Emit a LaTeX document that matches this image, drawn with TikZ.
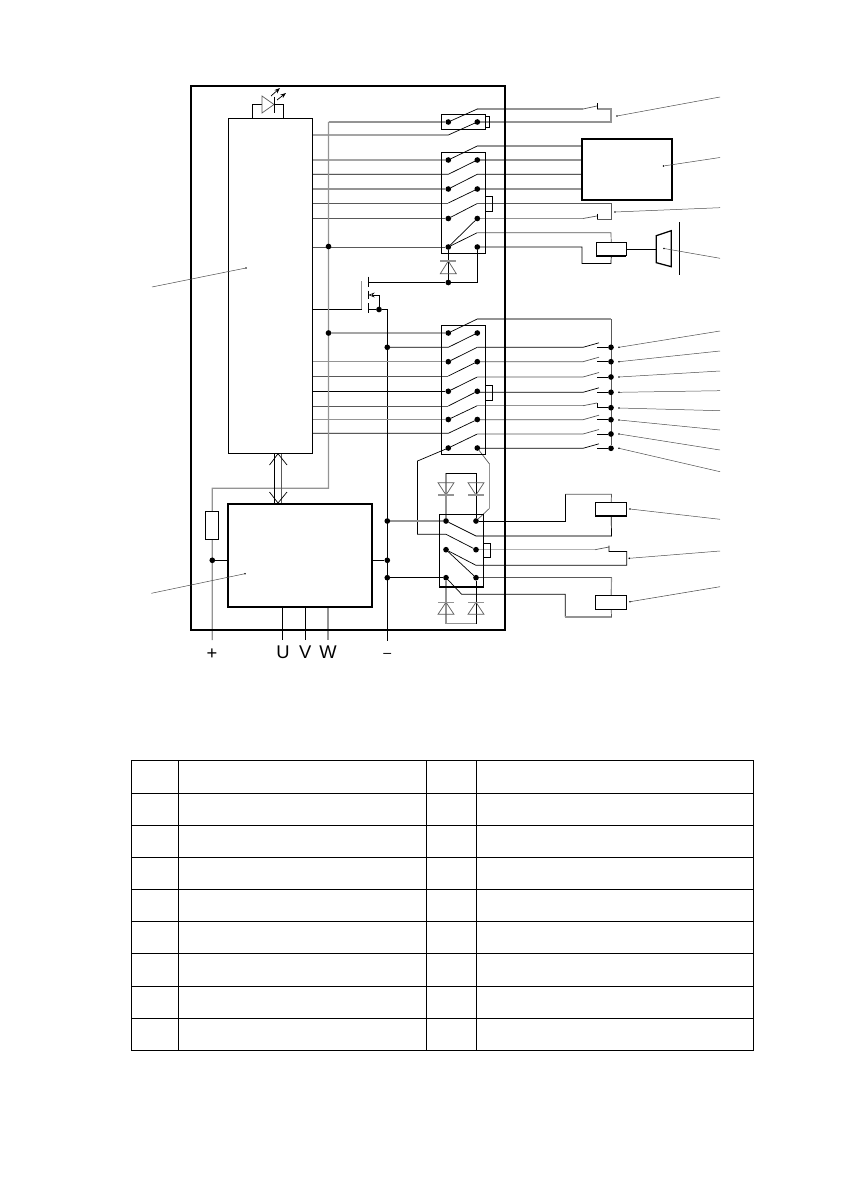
\documentclass[tikz,border=0pt]{standalone}
\usepackage{fontspec}
\setmainfont{Liberation Sans}
\usetikzlibrary{arrows.meta,backgrounds}
\tikzset{
  wire/.style={line width=0.5pt,black},
  mwire/.style={line width=0.5pt,black!65},
  gwire/.style={line width=0.8pt,black!42},
  leader/.style={line width=0.35pt,black!70},
  sized/.style 2 args={minimum width=#1*0.707pt,minimum height=#2*0.707pt},
  box/.style={draw,line width=0.6pt,inner sep=0pt,outer sep=0pt},
  hbox/.style={box,line width=1.2pt},
  base/.style={line width=1.1pt},
  tline/.style={line width=0.7pt,black},
  dot/.style={circle,fill,inner sep=0pt,minimum size=4pt,outer sep=0pt},
  ldot/.style={circle,fill,inner sep=0pt,minimum size=1.3pt,outer sep=0pt},
  lab/.style={font=\fontsize{13}{13}\selectfont,inner sep=0pt,anchor=base}
}
\newcommand{\diodesym}[3]{
  \draw[mwire] ({#1-8},#2) -- ({#1+8},#2) -- (#1,#3) -- cycle;
  \draw[gwire] ({#1-8},#3) -- ({#1+8},#3);
}
\begin{document}
\begin{tikzpicture}[x=0.707pt,y=-0.707pt]
\useasboundingbox (0,0) rectangle (842,1191);

\node[hbox,sized={314}{544},line width=1.2pt] (frame) at (348,358) {};
\node[box,sized={84}{334.5}] (ctrl) at (270,285.75) {};
\node[hbox,sized={144}{103}] (power) at (299.7,555.2) {};
\node[hbox,sized={90.3}{61}] (unit) at (626.8,169.4) {};
\node[box,sized={13}{28}] (fuse) at (212.2,525.3) {};
\node[box,sized={44}{15.2}] (relA) at (463.7,122) {};
\node[box,sized={44}{101}] (relB) at (463.7,203.2) {};
\node[box,sized={43.8}{129}] (relC) at (463.5,389.8) {};
\node[box,sized={44}{72.3}] (relD) at (461.3,550.8) {};
\node[box,sized={30}{13.5}] (coilA) at (611.2,249) {};
\node[box,sized={31}{13.7}] (coilB) at (611.2,509.2) {};
\node[box,sized={31}{14}] (coilC) at (611.2,602.3) {};

\foreach \n/\y in {1/122} {
  \node[dot] (al\n) at (448.3,\y) {};
  \node[dot] (ar\n) at (477.3,\y) {};
}
\foreach \n/\y in {1/160,2/189,3/218.5,4/247} {
  \node[dot] (bl\n) at (448.3,\y) {};
  \node[dot] (br\n) at (477.3,\y) {};
}
\foreach \n/\y in {1/333,2/361.7,3/391.3,4/419.5,5/448} {
  \node[dot] (cl\n) at (448.3,\y) {};
  \node[dot] (cr\n) at (477.3,\y) {};
}
\foreach \n/\y in {1/521,2/549.7,3/577.7} {
  \node[dot] (dl\n) at (446,\y) {};
  \node[dot] (dr\n) at (476,\y) {};
}
\foreach \n/\y in {1/347.3,2/361.7,3/377,4/392.3,5/407.7,6/419.7,7/434,8/448.3} {
  \node[dot] (bus\n) at (611,\y) {};
}
\node[dot] (ga) at (448.3,282.5) {};
\node[dot] (sa) at (379,309.5) {};
\node[dot] (ja) at (328.5,246.5) {};
\node[dot] (jb) at (328.5,333) {};
\node[dot] (jc) at (387.3,347.3) {};
\node[dot] (jd) at (387.3,521) {};
\node[dot] (je) at (387.3,560.3) {};
\node[dot] (jf) at (387.3,577.7) {};
\node[dot] (jg) at (212.3,560.3) {};

\node[lab] (plus) at (212,659.5) {+};
\node[lab] (uu) at (283,658.7) {U};
\node[lab] (vv) at (305.3,658.7) {V};
\node[lab] (ww) at (328,658.7) {W};
\node[lab,font=\fontsize{10}{10}\selectfont] (minus) at (387.3,657) {–};

\begin{scope}[on background layer]
% led
\draw[wire] (252,118.5) -- (252,104) -- (283,104) -- (283,118.5);
\draw[mwire,fill=white] (262,96) -- (274,104.5) -- (262,113) -- cycle;
\draw[wire] (274,97) -- (274,113);
\draw[wire,-{Stealth[length=4pt,width=3pt]}] (271,96) -- (280,88);
\draw[wire,-{Stealth[length=4pt,width=3pt]}] (277,100) -- (286,93);

% first relay
\draw[gwire] (ar1) -- (611,122) -- (611,109) -- (597,109);
\draw[gwire] (583,109) -- (477.3,109);
\draw[wire] (al1) -- (477.3,109);
\draw[wire] (ctrl.east |- 0,135) -- (448.3,135) -- (ar1);
\draw[mwire] (583,109) -- (597,106);
\draw[wire] (597,103.5) -- (597,109);
\draw[wire] (485.7,116) -- (489.5,116) -- (489.5,127.3) -- (485.7,127.3);

% second relay
\draw[wire] (ctrl.east |- bl1) -- (bl1) -- (477.3,146);
\draw[gwire] (477.3,146) -- (unit.west |- 0,146);
\draw[gwire] (br1) -- (unit.west |- br1);
\draw[wire] (ctrl.east |- 0,174.3) -- (448.3,174.3) -- (br1);
\draw[wire] (bl2) -- (477.3,174.3) -- (unit.west |- 0,174.3);
\draw[gwire] (ctrl.east |- bl2) -- (bl2);
\draw[gwire] (br2) -- (unit.west |- br2);
\draw[mwire] (ctrl.east |- 0,203) -- (448.3,203);
\draw[wire] (448.3,203) -- (br2);
\draw[wire] (bl3) -- (477.3,203.5);
\draw[mwire] (477.3,203.5) -- (611,203.5) -- (611,219) -- (597,219);
\draw[mwire] (ctrl.east |- bl3) -- (bl3);
\draw[gwire] (br3) -- (583,218.5);
\draw[mwire] (583,218.5) -- (597,216);
\draw[wire] (597,213.5) -- (597,219);
\draw[wire] (bl4) -- (br3);
\draw[wire] (bl4) -- (477.3,232.7);
\draw[mwire] (477.3,232.7) -- (611,232.7) -- (coilA.north);
\draw[mwire] (ctrl.east |- bl4) -- (bl4);
\draw[wire] (br4) -- (582,247) -- (582,263.5) -- (611,263.5) -- (coilA.south);
\draw[wire] (coilA.east) -- (656.3,249);
\draw[wire] (485.7,196.7) -- (492,196.7) -- (492,211.7) -- (485.7,211.7);
\draw[wire] (bl4) -- (ga) -- (477.3,282.5) -- (br4);
\draw[wire] (368.3,282.5) -- (ga);
\diodesym{448.3}{273.7}{261}

% speaker
\draw[line width=0.9pt] (656.3,235.7) -- (671.3,230.7) -- (671.3,266.7) -- (656.3,262.7) -- cycle;
\draw[line width=0.7pt] (679,222.3) -- (679,275);

% gate
\draw[wire] (ctrl.east |- 0,309.3) -- (361.7,309.3);
\draw[gwire] (361.7,281) -- (361.7,309.3);
\draw[wire] (368.3,276.7) -- (368.3,286.7);
\draw[wire] (368.3,290.7) -- (368.3,299.3);
\draw[wire] (368.3,303.3) -- (368.3,313.3);
\draw[wire] (368.3,309.5) -- (sa) -- (387.3,309.5) -- (387.3,640.7);
\draw[wire,line width=0.4pt,-{Stealth[open,length=4.5pt,width=3.5pt]}] (sa) -- (379,295) -- (368.3,295);

% third relay
\draw[wire] (jb) -- (cl1) -- (477.3,319);
\draw[gwire] (477.3,319) -- (611,319);
\draw[mwire] (611,319) -- (bus8);
\draw[wire] (jc) -- (448.3,347.3) -- (cr1);
\draw[wire] (cl2) -- (477.3,347.3);
\draw[gwire] (ctrl.east |- cl2) -- (cl2);
\draw[mwire] (ctrl.east |- 0,376) -- (448.3,376);
\draw[wire] (448.3,376) -- (cr2);
\draw[wire] (cl3) -- (477.3,377);
\draw[wire] (ctrl.east |- cl3) -- (cl3);
\draw[mwire] (ctrl.east |- 0,406) -- (448.3,406);
\draw[wire] (448.3,406) -- (cr3);
\draw[wire] (cl4) -- (477.3,405.7);
\draw[gwire] (ctrl.east |- cl4) -- (cl4);
\draw[wire] (ctrl.east |- 0,433.3) -- (448.3,433.3) -- (cr4);
\draw[wire] (cl5) -- (477.3,434);
\foreach \n/\y/\c in {1/347.3/wire,2/361.7/mwire,3/377/mwire,4/392.3/wire,6/419.7/mwire,7/434/mwire,8/448.3/wire} {
  \draw[\c] (477.3,\y) -- (583,\y) -- (599,\y-4.5);
  \draw[wire] (597,\y) -- (bus\n);
}
\draw[gwire] (477.3,405.7) -- (583,405.7);
\draw[mwire] (583,405.7) -- (597,403);
\draw[wire] (597,403) -- (597,407.7) -- (bus5);
\draw[wire] (485.3,385.3) -- (492,385.3) -- (492,400) -- (485.3,400);

% fourth relay
\draw[wire] (cl5) -- (417.5,461) -- (417.5,534.3) -- (446,534.3) -- (dr2);
\draw[mwire] (cr5) -- (489.5,464);
\draw[gwire] (489.5,464) -- (489.5,508.3);
\draw[mwire] (489.5,508.3) -- (dr1);
\draw[gwire] (jd) -- (dl1);
\draw[wire] (dl1) -- (476,536);
\draw[gwire] (476,536) -- (611.5,536);
\draw[wire] (611.5,536) -- (coilB.south);
\draw[wire] (dr1) -- (565.3,521) -- (565.3,494.3);
\draw[mwire] (565.3,494.3) -- (611.5,494.3) -- (coilB.north);
\draw[black!30,line width=0.5pt] (dr2) -- (595,549.7);
\draw[mwire] (595,549.7) -- (609,547);
\draw[wire] (609,545.5) -- (609,551.5) -- (626.7,551.5) -- (626.7,565.3) -- (476,565.3) -- (dl2);
\draw[wire] (dl2) -- (dr3);
\draw[wire] (jf) -- (dl3);
\draw[mwire] (dr3) -- (611.5,577.7);
\draw[gwire] (611.5,577.7) -- (coilC.north);
\draw[wire] (dl3) -- (461.7,594.3) -- (565.3,594.3) -- (565.3,617);
\draw[gwire] (565.3,617) -- (611.5,617);
\draw[mwire] (611.5,617) -- (coilC.south);
\draw[line width=0.9pt] (483.3,543.7) -- (490.3,543.7) -- (490.3,557.7) -- (483.3,557.7);
\draw[gwire] (dl1) -- (446,473.3);
\draw[wire] (446,473.3) -- (476,473.3) -- (dr1);
\diodesym{446}{482.7}{495}
\diodesym{476}{482.7}{495}
\draw[gwire] (dl3) -- (446,623.7) -- (476,623.7);
\draw[wire] (476,623.7) -- (dr3);
\diodesym{446}{614.3}{602.3}
\diodesym{476}{614.3}{602.3}

% supply
\draw[gwire] (ja |- 0,122) -- (al1);
\draw[gwire] (ja |- 0,122) -- (328.5,488.3) -- (212.3,488.3) -- (fuse.north);
\draw[gwire] (fuse.south) -- (212.3,640);
\draw[wire] (jg) -- (power.west |- jg);
\draw[wire] (power.east |- je) -- (je);
\draw[wire] (282.7,606.7) -- (282.7,640);
\draw[wire] (305.3,606.7) -- (305.3,640);
\draw[gwire] (328,606.7) -- (328,640);
\draw[wire] (274.7,453.5) -- (274.7,503);
\draw[mwire] (281.7,453.5) -- (281.7,503);
\draw[wire] (269.5,465) -- (278,453.7) -- (287,465);
\draw[wire] (269.5,492) -- (278,503) -- (287,492);

% thick edges
\draw[base] (relB.south west) -- (relB.south east);
\draw[base] (relC.south west) -- (relC.south east);
\draw[base] (relD.south west) -- (relD.south east);
\draw[base] (coilA.south west) -- (coilA.south east);
\draw[base] (coilB.south west) -- (coilB.south east);
\draw[base] (coilC.south west) -- (coilC.south east);
\end{scope}

% pointers
\foreach \x/\y/\e [count=\i] in {617/116/97,663.5/166/157.5,615/212/207.7,664/248.5/258.3,
  619/347.3/331,619/361.7/351,619/377/371,619/392.3/390.7,619/408/410.7,619/420/430,619/434/450,619/448.3/471.7,
  630/509/519.3,629.3/558.3/551,630/601.7/586.7} {
  \node[ldot] (p\i) at (\x,\y) {};
  \coordinate (e\i) at (720,\e);
  \draw[leader] (p\i) -- (e\i);
}
\node[ldot] (pc) at (246,268) {};
\coordinate (ec) at (152,287);
\draw[leader] (pc) -- (ec);
\node[ldot] (pp) at (245,573.7) {};
\coordinate (ep) at (151.3,593.3);
\draw[leader] (pp) -- (ep);

% table
\foreach \y in {760.3,793.3,825.3,857.3,889.3,921.3,953.3,986.3,1018.3,1050.3}
  \draw[tline] (131.3,\y) -- (753.7,\y);
\foreach \x in {131.3,178.3,426.3,476.3,753.7}
  \draw[tline] (\x,760.3) -- (\x,1050.3);
\end{tikzpicture}
\end{document}
